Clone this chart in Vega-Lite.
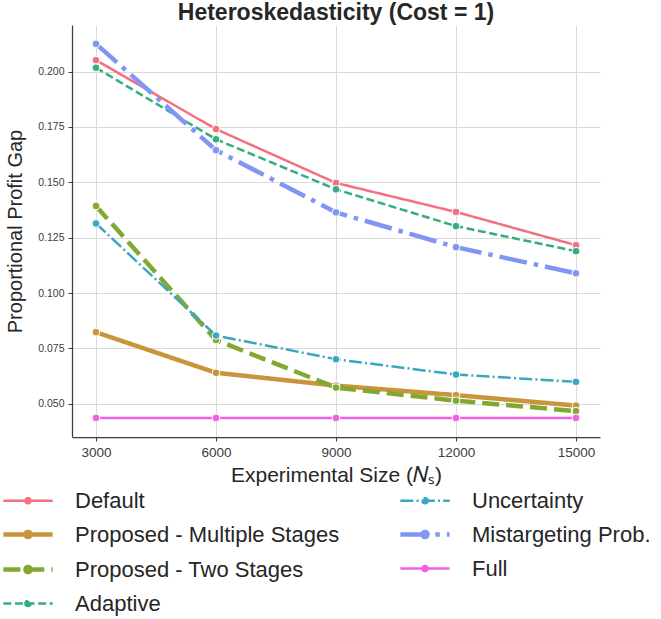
{
  "$schema": "https://vega.github.io/schema/vega-lite/v6.json",
  "width": 528,
  "height": 412,
  "autosize": "none",
  "padding": {"left": 72, "top": 25, "right": 61, "bottom": 182},
  "background": "white",
  "title": {"text": "Heteroskedasticity (Cost = 1)", "font": "Liberation Sans", "fontSize": 23, "fontWeight": "bold", "color": "#262626", "offset": 0, "anchor": "middle"},
  "config": {
    "view": {"stroke": null},
    "font": "Liberation Sans",
    "axis": {"labelFont": "Liberation Sans", "titleFont": "Liberation Sans", "labelColor": "#3c3c3c", "titleColor": "#262626", "titleFontSize": 20, "titleFontWeight": "normal", "domainColor": "#3c3c3c", "domainWidth": 1.25, "tickColor": "#3c3c3c", "tickSize": 4, "gridColor": "#dadada", "gridWidth": 1}
  },
  "data": {"values": [
    {"method": "Default", "n": 3000, "gap": 0.2051},
    {"method": "Default", "n": 6000, "gap": 0.1740},
    {"method": "Default", "n": 9000, "gap": 0.1497},
    {"method": "Default", "n": 12000, "gap": 0.1366},
    {"method": "Default", "n": 15000, "gap": 0.1216},
    {"method": "Proposed - Multiple Stages", "n": 3000, "gap": 0.0823},
    {"method": "Proposed - Multiple Stages", "n": 6000, "gap": 0.0640},
    {"method": "Proposed - Multiple Stages", "n": 9000, "gap": 0.0582},
    {"method": "Proposed - Multiple Stages", "n": 12000, "gap": 0.0539},
    {"method": "Proposed - Multiple Stages", "n": 15000, "gap": 0.0492},
    {"method": "Proposed - Two Stages", "n": 3000, "gap": 0.1393},
    {"method": "Proposed - Two Stages", "n": 6000, "gap": 0.0788},
    {"method": "Proposed - Two Stages", "n": 9000, "gap": 0.0573},
    {"method": "Proposed - Two Stages", "n": 12000, "gap": 0.0514},
    {"method": "Proposed - Two Stages", "n": 15000, "gap": 0.0467},
    {"method": "Adaptive", "n": 3000, "gap": 0.2017},
    {"method": "Adaptive", "n": 6000, "gap": 0.1694},
    {"method": "Adaptive", "n": 9000, "gap": 0.1468},
    {"method": "Adaptive", "n": 12000, "gap": 0.1302},
    {"method": "Adaptive", "n": 15000, "gap": 0.1189},
    {"method": "Uncertainty", "n": 3000, "gap": 0.1314},
    {"method": "Uncertainty", "n": 6000, "gap": 0.0808},
    {"method": "Uncertainty", "n": 9000, "gap": 0.0701},
    {"method": "Uncertainty", "n": 12000, "gap": 0.0632},
    {"method": "Uncertainty", "n": 15000, "gap": 0.0599},
    {"method": "Mistargeting Prob.", "n": 3000, "gap": 0.2125},
    {"method": "Mistargeting Prob.", "n": 6000, "gap": 0.1645},
    {"method": "Mistargeting Prob.", "n": 9000, "gap": 0.1364},
    {"method": "Mistargeting Prob.", "n": 12000, "gap": 0.1207},
    {"method": "Mistargeting Prob.", "n": 15000, "gap": 0.1089},
    {"method": "Full", "n": 3000, "gap": 0.0436},
    {"method": "Full", "n": 6000, "gap": 0.0436},
    {"method": "Full", "n": 9000, "gap": 0.0436},
    {"method": "Full", "n": 12000, "gap": 0.0436},
    {"method": "Full", "n": 15000, "gap": 0.0436}
  ]},
  "encoding": {
    "x": {"field": "n", "type": "quantitative", "scale": {"domain": [2400, 15600], "nice": false, "zero": false},
          "axis": {"values": [3000, 6000, 9000, 12000, 15000], "format": "d", "title": "Experimental Size (𝑁ₛ)", "titlePadding": 6, "labelPadding": 4, "labelFontSize": 13.5, "titleFontSize": 21}},
    "y": {"field": "gap", "type": "quantitative", "scale": {"domain": [0.035, 0.221], "nice": false, "zero": false},
          "axis": {"values": [0.05, 0.075, 0.1, 0.125, 0.15, 0.175, 0.2], "format": ".3f", "title": "Proportional Profit Gap", "titlePadding": 12, "labelPadding": 4, "labelFontSize": 10.5}},
    "color": {"field": "method", "type": "nominal",
      "scale": {"domain": ["Default", "Proposed - Multiple Stages", "Proposed - Two Stages", "Adaptive", "Uncertainty", "Mistargeting Prob.", "Full"],
                "range": ["#f4707f", "#c9943a", "#82a832", "#35ad7d", "#39a8bf", "#8196f3", "#f060e6"]},
      "legend": {"orient": "none", "legendX": -63.5, "legendY": 457, "columns": 2, "title": null,
                 "symbolType": "M-1.45,0H1.45M-0.15,0A0.15,0.15,0,1,0,0.15,0A0.15,0.15,0,1,0,-0.15,0",
                 "symbolSize": 1156, "labelFontSize": 22, "labelFont": "Liberation Sans", "labelColor": "#262626", "columnPadding": 51, "rowPadding": 3, "labelOffset": 27.5, "labelLimit": 400}
    }
  },
  "layer": [
    {
      "mark": {"type": "line"},
      "encoding": {
        "strokeDash": {"field": "method", "type": "nominal",
          "scale": {"domain": ["Default", "Proposed - Multiple Stages", "Proposed - Two Stages", "Adaptive", "Uncertainty", "Mistargeting Prob.", "Full"],
                    "range": [[1, 0], [1, 0], [17, 7], [8, 3.6], [13, 3.2, 2, 3.2], [28, 7, 4.5, 7], [1, 0]]}},
        "strokeWidth": {"field": "method", "type": "nominal",
          "scale": {"type": "ordinal", "domain": ["Default", "Proposed - Multiple Stages", "Proposed - Two Stages", "Adaptive", "Uncertainty", "Mistargeting Prob.", "Full"],
                    "range": [2.5, 4.5, 4.5, 2.5, 2.5, 4.5, 2.5]}}
      }
    },
    {
      "mark": {"type": "point", "filled": true, "size": 60, "stroke": "white", "strokeWidth": 1, "opacity": 1}
    }
  ]
}
